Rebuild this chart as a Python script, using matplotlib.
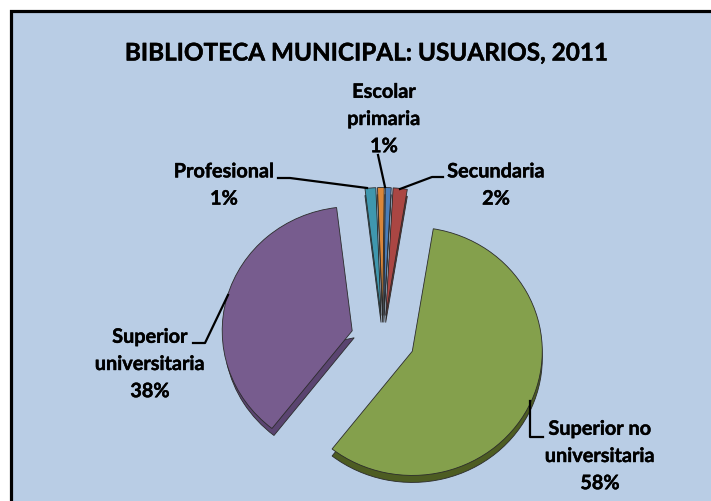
import matplotlib.pyplot as plt
import matplotlib.patheffects as pe
from matplotlib.lines import Line2D

plt.rcParams['font.family'] = ['Lato', 'DejaVu Sans']

# values, clockwise from the top
names = ['Escolar\nprimaria', 'Secundaria', 'Superior no\nuniversitaria', 'Superior\nuniversitaria', 'Profesional', '']
pct_labels = ['1%', '2%', '58%', '38%', '1%', '']
values = [0.7, 1.7, 58.0, 37.5, 1.3, 0.8]
explode = [0.19, 0.19, 0.246, 0.246, 0.19, 0.19]
colors = ['#4a7ebb', '#aa4643', '#84a04c', '#775c8e', '#3f97ae', '#d9863a']
side_colors = ['#2f5582', '#76302e', '#4d5c22', '#5a4470', '#2a6878', '#96592a']

W, H = 711, 501
fig = plt.figure(figsize=(W / 100, H / 100), dpi=100, facecolor='white')

# background panel, the frame runs off the right and bottom of the image
bg = fig.add_axes([0, 0, 1, 1])
bg.set_xlim(0, W)
bg.set_ylim(H, 0)
bg.axis('off')
bg.add_patch(plt.Rectangle((10.5, 10.5), W, H, facecolor='#b9cde5', edgecolor='black', linewidth=2.3))

# pie axes, centre at pixel (383, 339), radius 130 px, tilted a bit
R = 130
tilt = 0.955
scale = 2.0
cx, cy = 383, 339
ax = fig.add_axes([(cx - R * scale) / W, 1 - (cy + R * scale) / H, 2 * R * scale / W, 2 * R * scale / H])
ax.patch.set_alpha(0)

# first slice starts 9.3 degrees past the top for the green one
start = 90 - (9.3 - sum(values[:2]) * 3.6)
depth = 7 / (R * tilt)


def draw_pie(cols, center):
    wedges, _ = ax.pie(values, explode=explode, colors=cols, startangle=start, counterclock=False,
                       center=center, radius=1, frame=False,
                       wedgeprops={'linewidth': 0.6, 'edgecolor': '#2b2b2b'})
    # the thin slices reach further up in the original
    for i in [0, 1, 4, 5]:
        wedges[i].set_radius(1.03)
    return wedges


# side of the slices is a darker copy pushed down
side = draw_pie(side_colors, (0, -depth))
# purple side only shows on the straight lower edge
px, py = side[3].center
side[3].set_center((px + 2 / R, py))
side[3].set_theta1(side[3].theta2 - 40)
draw_pie(colors, (0, 0))
ax.set_xlim(-scale, scale)
ax.set_ylim(-scale, scale)
ax.set_aspect(tilt)
ax.axis('off')

# text and leader lines on top
top = fig.add_axes([0, 0, 1, 1])
top.set_xlim(0, W)
top.set_ylim(H, 0)
top.axis('off')

heavy = [pe.withStroke(linewidth=0.3, foreground='black')]
top.text(366, 53, 'BIBLIOTECA MUNICIPAL: USUARIOS, 2011', ha='center', va='center',
         fontsize=17.5, fontweight='bold', color='black', path_effects=heavy)

label_pos = [(384, 119), (496, 185), (600, 456), (150, 364), (224, 185)]
for name, pct, pos in zip(names, pct_labels, label_pos):
    top.text(pos[0], pos[1], name + '\n' + pct, ha='center', va='center', fontsize=14.3,
             fontweight='bold', color='black', linespacing=1.45, path_effects=heavy)

leaders = [
    [(378, 155), (385, 187)],
    [(443, 177), (432, 177), (400, 189)],
    [(530, 401), (530, 437), (543, 437)],
    [(193, 343), (205, 343), (228, 295)],
    [(278, 178), (290, 178), (367, 188)],
]
for pts in leaders:
    xs = [p[0] for p in pts]
    ys = [p[1] for p in pts]
    top.add_line(Line2D(xs, ys, color='black', linewidth=1.6))

fig.savefig('out.png', dpi=100, facecolor='white')
